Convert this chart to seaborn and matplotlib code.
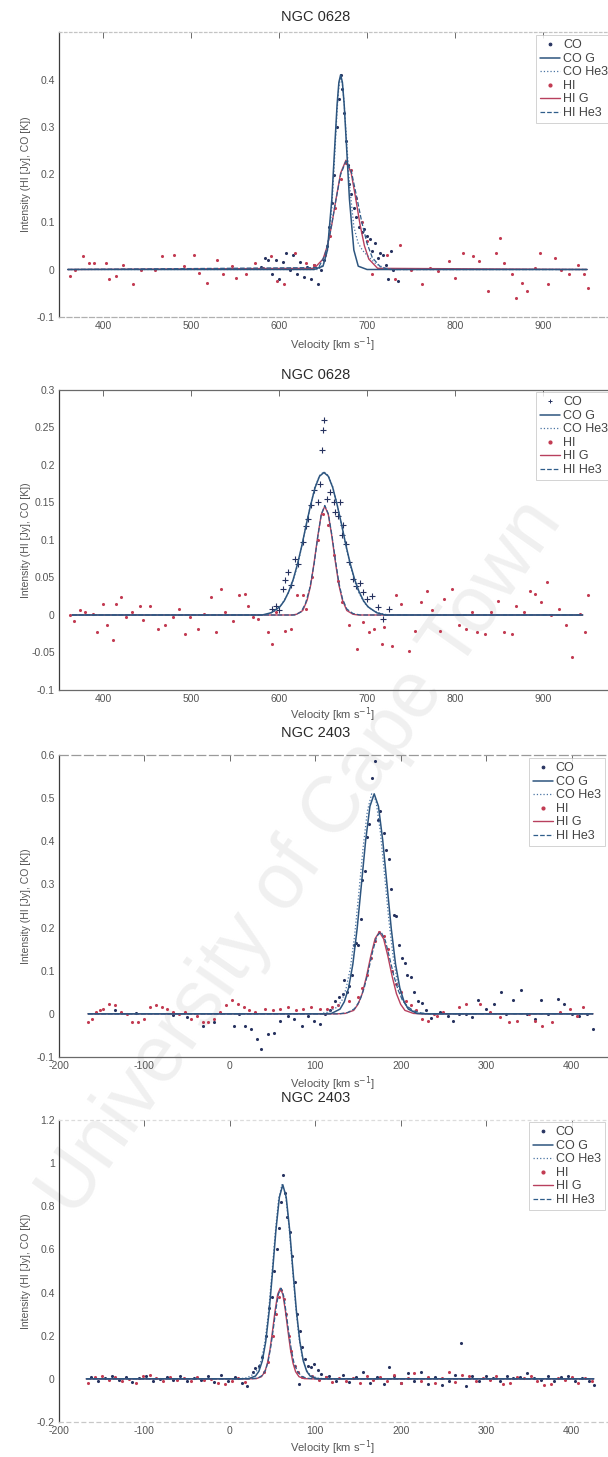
import matplotlib
matplotlib.use("Agg")
import matplotlib.pyplot as plt
import seaborn as sns
from matplotlib.lines import Line2D

sns.set_style("white")
plt.rcParams["font.family"] = ["Liberation Sans", "DejaVu Sans"]

# ---------------- NGC 0628 (first fit) ----------------
p1_co_pts = [(580, 0.005), (584, 0.025), (588, 0.02), (592, -0.01), (596, 0.02), (600, -0.02),
             (604, 0.015), (608, 0.035), (612, 0.0), (616, 0.03), (620, -0.01), (624, 0.015),
             (628, -0.015), (632, 0.005), (636, -0.02), (640, 0.01), (644, -0.03), (648, 0.0),
             (651, 0.02), (654, 0.05), (657, 0.09), (660, 0.14), (663, 0.2), (666, 0.3),
             (668, 0.36), (670, 0.41), (672, 0.38), (674, 0.33), (676, 0.27), (678, 0.22),
             (680, 0.18), (682, 0.16), (685, 0.13), (688, 0.11), (691, 0.09), (694, 0.08),
             (697, 0.085), (700, 0.07), (703, 0.065), (706, 0.04), (709, 0.055), (712, 0.025),
             (715, 0.035), (718, 0.03), (721, 0.01), (724, -0.02), (727, 0.04), (730, 0.0),
             (735, -0.025)]
p1_hi_pts = [(362, -0.014), (368, 0.0), (377, 0.028), (384, 0.014), (390, 0.014), (403, 0.014),
             (407, -0.021), (415, -0.014), (423, 0.010), (434, -0.031), (443, 0.0), (459, 0.0),
             (467, 0.028), (481, 0.031), (492, 0.007), (503, 0.031), (509, -0.007), (518, -0.028),
             (529, 0.021), (536, -0.010), (547, 0.007), (551, -0.017), (562, -0.010), (573, 0.014),
             (582, 0.003), (591, 0.028), (598, -0.024), (606, -0.031), (618, 0.035), (631, 0.014),
             (640, 0.010), (652, 0.03), (658, 0.07), (664, 0.13), (670, 0.19), (676, 0.225),
             (682, 0.21), (688, 0.15), (694, 0.10), (700, 0.06), (706, -0.010), (723, 0.031),
             (732, -0.021), (737, 0.052), (750, 0.0), (763, -0.031), (772, 0.004), (781, -0.004),
             (793, 0.017), (800, -0.017), (809, 0.035), (820, 0.028), (827, 0.017), (838, -0.045),
             (847, 0.035), (851, 0.066), (856, 0.014), (865, -0.010), (869, -0.059), (876, -0.028),
             (882, -0.045), (891, 0.003), (897, 0.035), (906, -0.031), (913, 0.024), (920, 0.0),
             (929, -0.010), (940, 0.010), (946, -0.010), (951, -0.038)]
p1_co_g = [(360, 0), (640, 0), (650, 0.007), (655, 0.041), (660, 0.148), (663, 0.249), (666, 0.348),
           (668, 0.394), (670, 0.41), (672, 0.394), (674, 0.348), (677, 0.249), (680, 0.148),
           (685, 0.041), (690, 0.007), (700, 0), (950, 0)]
p1_co_he3 = [(360, 0), (645, 0), (650, 0.01), (655, 0.04), (660, 0.13), (663, 0.23), (666, 0.335),
             (668, 0.385), (670, 0.405), (672, 0.39), (674, 0.35), (677, 0.265), (680, 0.18),
             (685, 0.09), (690, 0.055), (695, 0.04), (700, 0.03), (710, 0.012), (720, 0.003),
             (730, 0), (950, 0)]
p1_hi_g = [(360, 0), (640, 0.0025), (650, 0.022), (655, 0.05), (660, 0.095), (665, 0.151),
           (670, 0.203), (676, 0.23), (682, 0.203), (687, 0.151), (692, 0.095), (697, 0.05),
           (702, 0.022), (712, 0.0025), (950, 0)]
p1_hi_he3 = [(360, 0), (645, 0.004), (652, 0.03), (658, 0.075), (664, 0.14), (670, 0.2), (676, 0.228),
             (682, 0.208), (688, 0.155), (694, 0.1), (700, 0.055), (706, 0.025), (715, 0.006),
             (725, 0), (950, 0)]

# ---------------- NGC 0628 (second fit) ----------------
p2_co_pts = [(592, 0.008), (596, 0.012), (600, 0.006), (605, 0.035), (607, 0.046), (610, 0.057),
             (614, 0.040), (618, 0.075), (622, 0.068), (627, 0.097), (631, 0.118), (633, 0.128),
             (636, 0.146), (640, 0.166), (644, 0.150), (647, 0.175), (649, 0.22), (650, 0.247),
             (651, 0.26), (654, 0.155), (658, 0.164), (662, 0.150), (664, 0.137), (667, 0.132),
             (669, 0.150), (671, 0.106), (673, 0.12), (676, 0.095), (680, 0.070), (684, 0.048),
             (688, 0.039), (692, 0.043), (695, 0.030), (700, 0.021), (706, 0.025), (712, 0.010),
             (718, -0.005), (725, 0.008)]
p2_hi_pts = [(363, 0.0), (367, -0.008), (374, 0.007), (380, 0.004), (389, 0.001), (393, -0.023),
             (400, 0.015), (404, -0.013), (411, -0.034), (415, 0.015), (420, 0.024), (426, -0.003),
             (433, 0.004), (442, 0.012), (446, -0.007), (453, 0.012), (462, -0.019), (471, -0.014),
             (479, -0.003), (486, 0.008), (493, -0.025), (499, -0.003), (508, -0.019), (515, 0.001),
             (523, 0.024), (528, -0.023), (534, 0.035), (539, 0.004), (548, -0.008), (554, 0.026),
             (561, 0.028), (565, 0.012), (570, -0.003), (576, -0.005), (587, -0.023), (592, -0.039),
             (596, 0.004), (607, -0.021), (614, -0.019), (620, 0.026), (627, 0.026), (631, 0.008),
             (638, 0.05), (644, 0.10), (650, 0.135), (656, 0.12), (662, 0.08), (667, 0.045),
             (671, 0.017), (680, -0.014), (689, -0.045), (695, -0.010), (702, -0.023), (708, -0.019),
             (717, -0.039), (719, -0.016), (728, -0.041), (733, 0.026), (739, 0.015), (748, -0.048),
             (755, -0.021), (761, 0.017), (768, 0.032), (774, 0.006), (783, -0.021), (788, 0.021),
             (797, 0.035), (805, -0.014), (812, -0.019), (819, 0.004), (825, -0.023), (834, -0.025),
             (841, 0.004), (849, 0.019), (856, -0.023), (865, -0.025), (869, 0.012), (878, 0.004),
             (885, 0.032), (891, 0.028), (898, 0.017), (904, 0.044), (909, 0.0), (918, 0.008),
             (926, -0.014), (933, -0.056), (942, 0.001), (948, -0.023), (951, 0.026)]
p2_co_g = [(365, 0), (581, 0), (591, 0.003), (601, 0.011), (606, 0.019), (611, 0.031), (616, 0.047),
           (621, 0.068), (626, 0.093), (631, 0.121), (636, 0.147), (641, 0.170), (646, 0.185),
           (651, 0.19), (656, 0.185), (661, 0.170), (666, 0.147), (671, 0.121), (676, 0.093),
           (681, 0.068), (686, 0.047), (691, 0.031), (696, 0.019), (701, 0.011), (711, 0.003),
           (721, 0), (945, 0)]
p2_co_he3 = [(365, 0), (585, 0), (595, 0.005), (603, 0.014), (610, 0.028), (616, 0.046), (621, 0.066),
             (626, 0.092), (631, 0.121), (636, 0.148), (641, 0.171), (646, 0.186), (651, 0.191),
             (656, 0.186), (661, 0.171), (666, 0.148), (671, 0.121), (676, 0.092), (681, 0.066),
             (686, 0.045), (691, 0.029), (697, 0.016), (705, 0.007), (715, 0.002), (725, 0), (945, 0)]
p2_hi_g = [(365, 0), (615, 0), (620, 0.001), (627, 0.006), (632, 0.020), (636, 0.040), (640, 0.071),
           (644, 0.105), (648, 0.134), (652, 0.145), (656, 0.134), (660, 0.105), (664, 0.071),
           (668, 0.040), (672, 0.020), (677, 0.006), (684, 0.001), (690, 0), (945, 0)]
p2_hi_he3 = [(365, 0), (618, 0), (625, 0.004), (630, 0.015), (635, 0.036), (640, 0.069), (644, 0.104),
             (648, 0.134), (652, 0.146), (656, 0.135), (660, 0.107), (664, 0.074), (668, 0.043),
             (672, 0.022), (677, 0.008), (684, 0.002), (692, 0), (945, 0)]

# ---------------- NGC 2403 (first fit) ----------------
p3_co_pts = [(-135, 0.008), (-110, 0.002), (-66, -0.002), (-50, -0.008), (-32, -0.027), (-18, -0.019),
             (5, -0.027), (11, 0.0), (18, -0.027), (25, -0.035), (32, -0.058), (36, -0.082),
             (45, -0.047), (52, -0.045), (59, -0.016), (68, -0.004), (75, -0.012), (84, -0.027),
             (91, -0.004), (98, -0.016), (105, -0.023), (111, 0.0), (117, 0.01),
             (123, 0.03), (128, 0.04), (132, 0.045), (134, 0.078), (137, 0.05), (140, 0.065),
             (143, 0.09), (145, 0.16), (148, 0.165), (150, 0.16), (153, 0.22), (155, 0.31),
             (158, 0.33), (160, 0.41), (163, 0.44), (166, 0.546), (170, 0.585), (173, 0.45),
             (176, 0.47), (180, 0.42), (183, 0.38), (186, 0.36), (189, 0.29), (192, 0.23),
             (195, 0.226), (198, 0.16), (201, 0.13), (205, 0.117), (207, 0.09), (212, 0.085),
             (216, 0.05), (220, 0.03), (225, 0.025), (230, 0.01),
             (236, -0.01), (246, 0.005), (255, -0.004), (261, -0.016), (268, 0.0), (277, 0.0),
             (284, -0.008), (291, 0.031), (300, 0.012), (309, 0.023), (318, 0.05), (323, 0.0),
             (332, 0.031), (341, 0.055), (348, 0.0), (357, -0.012), (364, 0.031), (373, 0.0),
             (384, 0.035), (391, 0.023), (400, 0.0), (409, -0.004), (418, 0.0), (425, -0.035)]
p3_hi_pts = [(-166, -0.02), (-161, -0.012), (-157, 0.004), (-152, 0.008), (-148, 0.012), (-141, 0.023),
             (-134, 0.02), (-127, 0.004), (-120, 0.0), (-114, -0.02), (-107, -0.02), (-100, -0.012),
             (-93, 0.016), (-86, 0.02), (-80, 0.017), (-73, 0.012), (-66, 0.004), (-59, 0.0),
             (-52, 0.004), (-45, -0.012), (-39, -0.004), (-32, -0.02), (-25, -0.02), (-18, -0.012),
             (-11, 0.004), (-5, 0.02), (2, 0.031), (9, 0.023), (16, 0.016), (23, 0.008), (30, 0.004),
             (41, 0.012), (50, 0.008), (59, 0.012), (68, 0.016), (77, 0.008), (86, 0.012), (95, 0.016),
             (105, 0.012), (114, 0.012), (120, 0.016), (127, 0.02),
             (140, 0.03), (150, 0.04), (155, 0.06), (160, 0.09), (165, 0.13), (170, 0.17), (175, 0.19),
             (180, 0.18), (185, 0.15), (190, 0.1), (195, 0.07), (200, 0.05), (206, 0.03), (212, 0.02),
             (218, 0.01),
             (225, -0.012), (232, -0.016), (239, 0.0), (243, -0.004), (250, 0.004), (268, 0.016),
             (277, 0.023), (293, 0.023), (305, 0.004), (316, -0.008), (327, -0.02), (336, -0.016),
             (350, 0.0), (357, -0.016), (366, -0.027), (377, -0.02), (386, 0.004), (398, 0.012),
             (407, -0.004), (414, 0.016)]
p3_co_g = [(-166, 0), (109, 0), (119, 0.001), (129, 0.011), (134, 0.028), (139, 0.060), (144, 0.115),
           (149, 0.197), (154, 0.299), (159, 0.402), (164, 0.481), (169, 0.51), (174, 0.481),
           (179, 0.402), (184, 0.299), (189, 0.197), (194, 0.115), (199, 0.060), (204, 0.028),
           (209, 0.011), (219, 0.001), (229, 0), (425, 0)]
p3_co_he3 = [(-166, 0), (105, 0), (115, 0.004), (125, 0.015), (131, 0.03), (136, 0.058), (141, 0.105),
             (146, 0.18), (151, 0.28), (156, 0.385), (161, 0.47), (166, 0.51), (171, 0.495),
             (176, 0.425), (181, 0.325), (186, 0.22), (191, 0.135), (196, 0.075), (201, 0.038),
             (207, 0.016), (215, 0.004), (225, 0), (425, 0)]
p3_hi_g = [(-166, 0), (125, 0), (135, 0.001), (145, 0.008), (150, 0.022), (155, 0.047), (160, 0.087),
           (165, 0.134), (170, 0.174), (175, 0.19), (180, 0.174), (185, 0.134), (190, 0.087),
           (195, 0.047), (200, 0.022), (205, 0.008), (215, 0.001), (225, 0), (425, 0)]
p3_hi_he3 = [(-166, 0), (128, 0), (138, 0.003), (146, 0.012), (152, 0.03), (157, 0.058), (162, 0.098),
             (167, 0.143), (172, 0.18), (177, 0.19), (182, 0.17), (187, 0.13), (192, 0.088),
             (197, 0.055), (202, 0.032), (208, 0.017), (215, 0.007), (224, 0.002), (235, 0), (425, 0)]

# ---------------- NGC 2403 (second fit) ----------------
p4_co_pts = [(-162, 0.01), (-154, -0.012), (-146, 0.006), (-138, 0.015), (-130, -0.004), (-122, 0.008),
             (-114, -0.015), (-106, 0.004), (-98, 0.012), (-90, -0.008), (-82, 0.0), (-74, 0.01),
             (-66, -0.006), (-58, 0.014), (-50, -0.01), (-42, 0.005), (-34, -0.004), (-26, 0.012),
             (-18, -0.015), (-10, 0.02), (-2, -0.01), (6, 0.008), (14, -0.02), (20, -0.035),
             (27, 0.03), (30, 0.05), (34, 0.06), (38, 0.1), (42, 0.2), (46, 0.33), (49, 0.38),
             (52, 0.5), (55, 0.6), (58, 0.7), (60, 0.82), (62, 0.945), (64, 0.86), (67, 0.75),
             (70, 0.68), (73, 0.57), (76, 0.45), (79, 0.3), (81, -0.023), (82, 0.22), (85, 0.15),
             (88, 0.09), (91, 0.06), (95, 0.055), (99, 0.07), (103, 0.04), (107, 0.023), (112, 0.01),
             (116, 0.012), (124, -0.01), (132, 0.02), (140, -0.015), (148, 0.008), (156, 0.03),
             (164, -0.02), (172, 0.01), (180, -0.025), (186, 0.055), (192, 0.012), (200, -0.018),
             (208, 0.025), (216, -0.01), (224, 0.03), (232, -0.022), (240, 0.01), (248, -0.03),
             (256, -0.012), (264, 0.02), (271, 0.164), (276, -0.035), (284, 0.015), (292, -0.008),
             (300, 0.012), (308, 0.004), (316, -0.01), (324, 0.015), (332, 0.006), (340, 0.01),
             (348, 0.028), (356, 0.004), (364, -0.006), (372, 0.012), (380, -0.01), (388, 0.008),
             (396, 0.015), (404, -0.012), (412, 0.006), (420, -0.008), (426, -0.03)]
p4_hi_pts = [(-166, -0.02), (-158, 0.01), (-150, 0.015), (-142, -0.005), (-134, 0.008), (-126, -0.01),
             (-118, 0.0), (-110, -0.018), (-102, 0.012), (-94, 0.02), (-86, 0.005), (-78, -0.008),
             (-70, 0.01), (-62, -0.003), (-54, 0.006), (-46, -0.012), (-38, 0.009), (-30, -0.004),
             (-22, 0.0), (-14, -0.02), (-6, -0.025), (2, -0.01), (10, 0.005), (18, -0.015),
             (40, 0.03), (45, 0.08), (50, 0.2), (54, 0.3), (57, 0.38), (60, 0.41), (63, 0.37),
             (66, 0.3), (69, 0.2), (72, 0.13), (76, 0.06), (80, 0.03), (85, 0.01),
             (96, 0.012), (104, -0.006), (112, 0.01), (120, -0.015), (128, 0.003), (136, -0.01),
             (144, 0.006), (152, -0.02), (160, 0.015), (168, -0.004), (176, 0.009), (184, -0.012),
             (192, 0.02), (200, -0.018), (208, 0.004), (216, 0.028), (224, -0.008), (232, 0.01),
             (240, -0.02), (248, 0.006), (256, 0.03), (264, -0.014), (272, 0.018), (280, 0.012),
             (288, -0.01), (296, 0.005), (304, -0.006), (312, 0.014), (320, -0.025), (328, -0.02),
             (336, 0.008), (344, 0.004), (352, 0.012), (360, -0.01), (368, -0.03), (376, -0.022),
             (384, 0.006), (392, -0.004), (400, 0.01), (408, -0.02), (416, 0.004), (424, -0.01)]
p4_co_g = [(-168, 0), (12, 0), (22, 0.001), (30, 0.013), (34, 0.035), (38, 0.083), (42, 0.172),
           (46, 0.312), (50, 0.497), (54, 0.691), (58, 0.842), (62, 0.9), (66, 0.842), (70, 0.691),
           (74, 0.497), (78, 0.312), (82, 0.172), (86, 0.083), (90, 0.035), (94, 0.013), (102, 0.001),
           (112, 0), (426, 0)]
p4_co_he3 = [(-168, 0), (10, 0), (20, 0.005), (28, 0.022), (33, 0.045), (37, 0.09), (41, 0.17),
             (45, 0.3), (49, 0.475), (53, 0.67), (57, 0.83), (61, 0.9), (65, 0.86), (69, 0.72),
             (73, 0.53), (77, 0.34), (81, 0.19), (85, 0.095), (89, 0.045), (94, 0.018), (102, 0.004),
             (112, 0), (426, 0)]
p4_hi_g = [(-168, 0), (21, 0), (31, 0.001), (37, 0.010), (41, 0.033), (44, 0.072), (47, 0.136),
           (50, 0.223), (53, 0.317), (56, 0.392), (59, 0.42), (62, 0.392), (65, 0.317), (68, 0.223),
           (71, 0.136), (74, 0.072), (77, 0.033), (81, 0.010), (87, 0.001), (97, 0), (426, 0)]
p4_hi_he3 = [(-168, 0), (24, 0), (33, 0.004), (38, 0.016), (42, 0.042), (45, 0.085), (48, 0.15),
             (51, 0.235), (54, 0.325), (57, 0.395), (60, 0.42), (63, 0.385), (66, 0.305), (69, 0.215),
             (72, 0.135), (75, 0.075), (79, 0.035), (84, 0.012), (90, 0.003), (100, 0), (426, 0)]

# ---------------- axis ticks and labels ----------------
titles = ["NGC 0628", "NGC 0628", "NGC 2403", "NGC 2403"]
xticks_0628 = [400, 500, 600, 700, 800, 900]
xticks_2403 = [-200, -100, 0, 100, 200, 300, 400]
yticks_p1 = [-0.1, 0, 0.1, 0.2, 0.3, 0.4, 0.5]
ylabels_p1 = ["-0.1", "0", "0.1", "0.2", "0.3", "0.4", ""]
yticks_p2 = [-0.1, -0.05, 0, 0.05, 0.1, 0.15, 0.2, 0.25, 0.3]
ylabels_p2 = ["-0.1", "-0.05", "0", "0.05", "0.1", "0.15", "0.2", "0.25", "0.3"]
yticks_p3 = [-0.1, 0, 0.1, 0.2, 0.3, 0.4, 0.5, 0.6]
ylabels_p3 = ["-0.1", "0", "0.1", "0.2", "0.3", "0.4", "0.5", "0.6"]
yticks_p4 = [-0.2, 0, 0.2, 0.4, 0.6, 0.8, 1.0, 1.2]
ylabels_p4 = ["-0.2", "0", "0.2", "0.4", "0.6", "0.8", "1", "1.2"]
legend_labels = ["CO", "CO G", "CO He3", "HI", "HI G", "HI He3"]
x_label = "Velocity [km s$^{-1}$]"
y_label = "Intensity (HI [Jy], CO [K])"

# ---------------- styling ----------------
C_CO_PT = "#26325f"
C_HI_PT = "#c23b52"
C_CO_G = "#2d557f"
C_CO_HE3 = "#4a74a3"
C_HI_G = "#b8405e"
C_HI_HE3 = "#2f5d8a"
TXT = "#555555"

W, H = 608, 1457
fig = plt.figure(figsize=(W / 100, H / 100), dpi=100)
fig.patch.set_facecolor("white")

panels = [
    dict(top=32, bottom=317, xlim=(350, 1009), ylim=(-0.1, 0.5), xt=xticks_0628,
         yt=yticks_p1, yl=ylabels_p1, co=p1_co_pts, hi=p1_hi_pts,
         curves=(p1_co_g, p1_co_he3, p1_hi_g, p1_hi_he3), co_marker=".",
         title_y=17, xlab_y=345, leg=(536, 35),
         top_sp=("#c4c4c4", (0, (2, 2))), bot_sp=("#b0b0b0", (0, (4, 2)))),
    dict(top=390, bottom=690, xlim=(350, 1009), ylim=(-0.1, 0.3), xt=xticks_0628,
         yt=yticks_p2, yl=ylabels_p2, co=p2_co_pts, hi=p2_hi_pts,
         curves=(p2_co_g, p2_co_he3, p2_hi_g, p2_hi_he3), co_marker="+",
         title_y=375, xlab_y=715, leg=(536, 392),
         top_sp=("#6a6a6a", "-"), bot_sp=("#6a6a6a", "-")),
    dict(top=755, bottom=1057, xlim=(-200, 479), ylim=(-0.1, 0.6), xt=xticks_2403,
         yt=yticks_p3, yl=ylabels_p3, co=p3_co_pts, hi=p3_hi_pts,
         curves=(p3_co_g, p3_co_he3, p3_hi_g, p3_hi_he3), co_marker=".",
         title_y=733, xlab_y=1084, leg=(529, 758),
         top_sp=("#9a9a9a", (0, (7, 3))), bot_sp=("#6a6a6a", "-")),
    dict(top=1120, bottom=1422, xlim=(-200, 479), ylim=(-0.2, 1.2), xt=xticks_2403,
         yt=yticks_p4, yl=ylabels_p4, co=p4_co_pts, hi=p4_hi_pts,
         curves=(p4_co_g, p4_co_he3, p4_hi_g, p4_hi_he3), co_marker=".",
         title_y=1098, xlab_y=1448, leg=(529, 1122),
         top_sp=("#dcdcdc", (0, (2, 3))), bot_sp=("#c8c8c8", (0, (3, 3)))),
]

# faint diagonal watermark behind the plots
fig.text(302 / W, 1 - 858 / H, "University of Cape Town", rotation=55, fontsize=57,
         color="#f0f0f0", ha="center", va="center", rotation_mode="anchor",
         family="Liberation Sans", zorder=-1)


def xs(pts):
    return [p[0] for p in pts]


def ys(pts):
    return [p[1] for p in pts]


for i, p in enumerate(panels):
    ax = fig.add_axes([59 / W, 1 - p["bottom"] / H, 580 / W, (p["bottom"] - p["top"]) / H])
    ax.set_facecolor("none")

    co_g, co_he3, hi_g, hi_he3 = p["curves"]

    # measured spectra
    if p["co_marker"] == "+":
        sns.scatterplot(x=xs(p["co"]), y=ys(p["co"]), ax=ax, color=C_CO_PT, marker="+",
                        s=14, linewidth=0.8, legend=False, zorder=3)
    else:
        sns.scatterplot(x=xs(p["co"]), y=ys(p["co"]), ax=ax, color=C_CO_PT, marker="o",
                        s=5, linewidth=0, legend=False, zorder=3)
    sns.scatterplot(x=xs(p["hi"]), y=ys(p["hi"]), ax=ax, color=C_HI_PT, marker="o",
                    s=5, linewidth=0, legend=False, zorder=3)

    # Gaussian and Gauss-Hermite fits
    sns.lineplot(x=xs(hi_g), y=ys(hi_g), ax=ax, color=C_HI_G, linewidth=1.0,
                 estimator=None, sort=False, zorder=4)
    sns.lineplot(x=xs(hi_he3), y=ys(hi_he3), ax=ax, color=C_HI_HE3, linewidth=0.9,
                 linestyle="--", estimator=None, sort=False, zorder=4)
    sns.lineplot(x=xs(co_he3), y=ys(co_he3), ax=ax, color=C_CO_HE3, linewidth=0.9,
                 linestyle=":", estimator=None, sort=False, zorder=4)
    sns.lineplot(x=xs(co_g), y=ys(co_g), ax=ax, color=C_CO_G, linewidth=1.1,
                 estimator=None, sort=False, zorder=5)

    ax.set_xlim(*p["xlim"])
    ax.set_ylim(*p["ylim"])
    ax.set_xticks(p["xt"])
    ax.set_xticklabels([str(t) for t in p["xt"]])
    ax.set_yticks(p["yt"])
    ax.set_yticklabels(p["yl"])
    ax.tick_params(axis="both", direction="in", length=4, width=0.6, color="#555555",
                   labelsize=7.5, labelcolor=TXT, top=True, pad=3)
    ax.set_xlabel("")
    ax.set_ylabel("")

    ax.spines["right"].set_visible(False)
    ax.spines["left"].set_color("#3c3c3c")
    ax.spines["left"].set_linewidth(0.9)
    ax.spines["top"].set_color(p["top_sp"][0])
    ax.spines["top"].set_linestyle(p["top_sp"][1])
    ax.spines["top"].set_linewidth(0.9)
    ax.spines["bottom"].set_color(p["bot_sp"][0])
    ax.spines["bottom"].set_linestyle(p["bot_sp"][1])
    ax.spines["bottom"].set_linewidth(0.9)

    # legend
    handles = [
        Line2D([], [], color=C_CO_PT, marker=p["co_marker"] if p["co_marker"] == "+" else "o",
               markersize=3.5 if p["co_marker"] == "+" else 2, linestyle="none",
               markeredgewidth=0.7),
        Line2D([], [], color=C_CO_G, linewidth=1.1),
        Line2D([], [], color=C_CO_HE3, linewidth=0.9, linestyle=":"),
        Line2D([], [], color=C_HI_PT, marker="o", markersize=2, linestyle="none"),
        Line2D([], [], color=C_HI_G, linewidth=1.0),
        Line2D([], [], color=C_HI_HE3, linewidth=0.9, linestyle="--"),
    ]
    leg = ax.legend(handles, legend_labels, loc="upper left",
                    bbox_to_anchor=(p["leg"][0] / W, 1 - p["leg"][1] / H),
                    bbox_transform=fig.transFigure, fontsize=9, frameon=True,
                    fancybox=False, borderpad=0.35, labelspacing=0.12,
                    handlelength=1.6, handletextpad=0.2, borderaxespad=0)
    leg.get_frame().set_edgecolor("#c0c0c0")
    leg.get_frame().set_linewidth(0.6)
    for t in leg.get_texts():
        t.set_color("#444444")

    # title, axis labels
    fig.text(316 / W, 1 - p["title_y"] / H, titles[i], ha="center", va="center",
             fontsize=10.5, color="#2a2a2a")
    fig.text(332 / W, 1 - p["xlab_y"] / H, x_label, ha="center", va="center",
             fontsize=8, color=TXT)
    fig.text(26 / W, 1 - (p["top"] + p["bottom"]) / 2 / H, y_label, ha="center",
             va="center", rotation=90, fontsize=7.5, color=TXT)

fig.savefig("out.png", dpi=100, facecolor="white")
